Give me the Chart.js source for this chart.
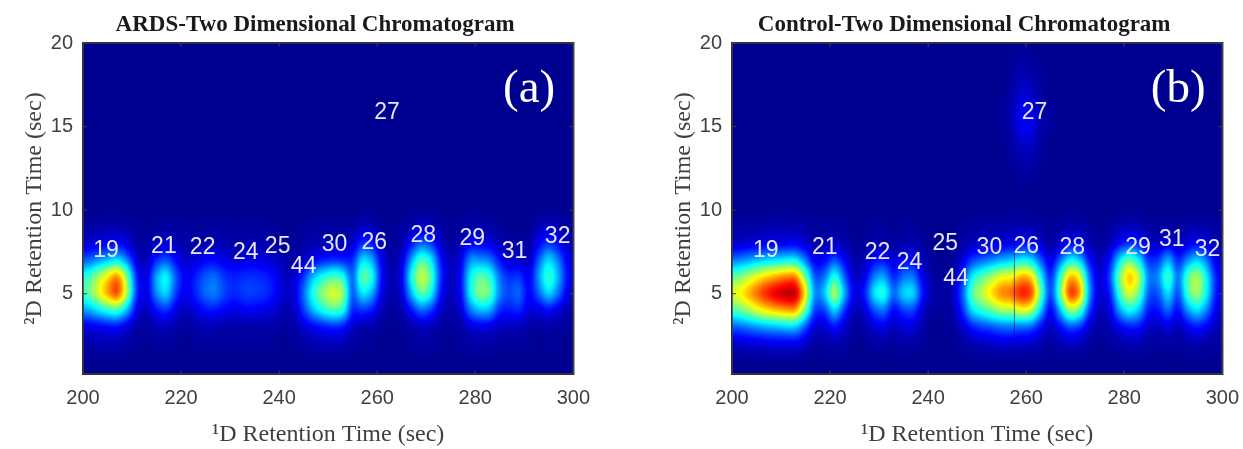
<!DOCTYPE html>
<html>
<head>
<meta charset="utf-8">
<script src="https://cdn.jsdelivr.net/npm/chart.js@4"></script>
<style>
  html, body { margin: 0; background: #fff; overflow: hidden; }
  canvas { position: absolute; top: 0; filter: blur(0.4px); }
</style>
</head>
<body>
<canvas id="ards" width="594" height="449" style="left:0"></canvas>
<canvas id="control" width="594" height="449" style="left:649px"></canvas>
<script>
'use strict';

const xTicks = [200, 220, 240, 260, 280, 300];
const yTicks = [5, 10, 15, 20];

// 1D column centres, every 2 sec
const columns = [
  201, 203, 205, 207, 209, 211, 213, 215, 217, 219,
  221, 223, 225, 227, 229, 231, 233, 235, 237, 239,
  241, 243, 245, 247, 249, 251, 253, 255, 257, 259,
  261, 263, 265, 267, 269, 271, 273, 275, 277, 279,
  281, 283, 285, 287, 289, 291, 293, 295, 297, 299,
];
// 2D row centres, bottom to top
const rows = [2, 3, 4, 5, 6, 7, 8, 9];

// Intensity 0-100, read by eye from the colours
const ardsGrid = [
  [3, 3, 3, 4, 2, 1, 0, 1, 1, 1, 0, 1, 1, 1, 1, 1, 1, 1, 1, 1, 0, 1, 2, 3, 4, 4, 4, 2, 1, 1, 0, 0, 0, 1, 2, 2, 1, 0, 1, 2, 2, 2, 1, 1, 1, 1, 0, 1, 1, 0],
  [7, 8, 9, 10, 6, 2, 1, 3, 4, 2, 1, 2, 3, 3, 2, 2, 2, 2, 2, 2, 1, 2, 6, 9, 11, 13, 12, 5, 2, 2, 1, 0, 1, 2, 4, 3, 1, 1, 2, 6, 7, 7, 4, 4, 4, 2, 1, 2, 1, 1],
  [28, 34, 40, 44, 30, 8, 3, 12, 16, 8, 4, 8, 12, 13, 10, 8, 10, 10, 9, 7, 3, 4, 17, 31, 40, 46, 43, 13, 16, 13, 3, 1, 2, 12, 22, 17, 5, 2, 5, 24, 31, 30, 14, 13, 16, 7, 7, 11, 7, 2],
  [46, 60, 74, 88, 58, 14, 6, 27, 36, 17, 8, 15, 23, 25, 18, 15, 18, 18, 17, 13, 6, 6, 22, 42, 54, 62, 58, 15, 38, 30, 8, 2, 6, 30, 50, 40, 11, 3, 9, 38, 54, 50, 24, 18, 24, 9, 21, 36, 23, 7],
  [42, 54, 66, 80, 52, 13, 5, 30, 42, 20, 9, 14, 21, 23, 16, 14, 16, 16, 15, 12, 5, 5, 16, 32, 40, 46, 43, 16, 52, 42, 10, 2, 7, 40, 62, 48, 15, 3, 9, 38, 48, 44, 22, 15, 18, 7, 28, 47, 30, 10],
  [20, 25, 29, 34, 24, 6, 3, 15, 20, 11, 5, 7, 10, 11, 8, 7, 8, 8, 8, 6, 3, 2, 5, 9, 12, 14, 13, 13, 36, 30, 8, 2, 5, 28, 48, 38, 12, 3, 7, 28, 26, 24, 12, 5, 6, 3, 21, 36, 24, 8],
  [6, 7, 9, 11, 8, 2, 1, 5, 7, 4, 2, 2, 3, 3, 3, 2, 3, 3, 3, 2, 1, 1, 2, 3, 4, 4, 4, 5, 16, 13, 3, 1, 2, 12, 21, 17, 5, 1, 3, 10, 9, 8, 4, 1, 2, 1, 10, 17, 11, 4],
  [2, 2, 3, 3, 2, 1, 0, 1, 2, 1, 1, 1, 1, 1, 1, 1, 1, 1, 1, 1, 0, 0, 1, 1, 1, 1, 1, 1, 5, 4, 1, 0, 1, 3, 6, 5, 2, 0, 1, 3, 3, 2, 1, 0, 0, 0, 4, 6, 4, 2],
];

const controlGrid = [
  [5, 6, 6, 7, 8, 8, 8, 5, 1, 2, 3, 2, 0, 0, 2, 2, 1, 2, 2, 1, 0, 0, 0, 1, 3, 4, 5, 6, 6, 5, 5, 3, 1, 3, 5, 4, 1, 0, 1, 2, 3, 3, 1, 1, 2, 1, 2, 3, 2, 1],
  [20, 22, 25, 27, 28, 30, 31, 19, 5, 6, 13, 6, 1, 2, 7, 9, 4, 7, 8, 2, 0, 0, 1, 5, 13, 16, 18, 21, 21, 20, 19, 11, 3, 11, 18, 15, 5, 1, 3, 9, 12, 13, 5, 4, 8, 3, 9, 13, 9, 3],
  [46, 52, 60, 66, 70, 73, 75, 48, 15, 16, 36, 15, 3, 5, 19, 24, 9, 17, 18, 5, 1, 1, 2, 14, 36, 42, 48, 54, 54, 62, 60, 32, 6, 30, 56, 48, 15, 4, 6, 28, 40, 32, 12, 12, 24, 9, 27, 36, 24, 6],
  [62, 70, 80, 88, 94, 98, 100, 68, 22, 32, 64, 30, 7, 12, 38, 46, 20, 36, 38, 12, 3, 1, 3, 20, 48, 58, 68, 78, 80, 90, 88, 50, 12, 50, 90, 78, 24, 5, 10, 42, 62, 50, 18, 18, 38, 14, 46, 56, 36, 10],
  [48, 54, 62, 68, 72, 76, 78, 50, 17, 22, 44, 20, 4, 7, 24, 30, 12, 23, 24, 8, 1, 1, 2, 14, 38, 46, 54, 62, 62, 72, 70, 38, 10, 42, 74, 64, 20, 5, 16, 50, 74, 60, 22, 26, 50, 19, 48, 58, 36, 10],
  [23, 26, 29, 32, 33, 35, 36, 23, 7, 10, 20, 10, 2, 3, 11, 13, 6, 11, 12, 4, 1, 0, 1, 6, 17, 20, 24, 28, 30, 36, 35, 20, 5, 22, 38, 32, 10, 3, 10, 34, 50, 36, 14, 16, 32, 12, 25, 34, 22, 6],
  [5, 6, 7, 8, 8, 8, 9, 6, 2, 3, 5, 3, 0, 1, 3, 3, 1, 3, 3, 1, 0, 0, 0, 2, 4, 5, 6, 7, 8, 10, 10, 6, 1, 5, 10, 9, 3, 1, 3, 10, 14, 14, 5, 4, 8, 3, 7, 10, 8, 2],
  [2, 2, 2, 3, 3, 3, 3, 2, 1, 1, 1, 1, 0, 0, 1, 1, 0, 1, 1, 0, 0, 0, 0, 1, 1, 2, 2, 2, 3, 3, 3, 2, 0, 2, 3, 3, 1, 0, 1, 3, 4, 4, 2, 1, 2, 1, 2, 3, 2, 1],
];

// Faint peak 27 in the control run
const faintColumns = [255, 257, 259, 261, 263, 265];
const faintRows = [12, 13, 14, 15, 16, 17, 18, 19];
const faintGrid = [
  [0, 0, 1, 1, 0, 0],
  [0, 1, 3, 3, 1, 0],
  [0, 2, 6, 6, 2, 0],
  [1, 3, 11, 11, 3, 1],
  [1, 3, 11, 10, 3, 1],
  [0, 2, 7, 6, 2, 0],
  [0, 1, 4, 3, 1, 0],
  [0, 1, 2, 1, 0, 0],
];

const ardsLabels = ['19', '21', '22', '24', '25', '44', '30', '26', '28', '29', '31', '32', '27'];
const ardsLabelX = [204.7, 216.5, 224.4, 233.2, 239.7, 245, 251.3, 259.4, 269.4, 279.4, 288, 296.8, 262];
const ardsLabelY = [7.57, 7.81, 7.75, 7.45, 7.81, 6.6, 7.93, 8.05, 8.47, 8.29, 7.5, 8.41, 15.82];

const controlLabels = ['19', '21', '22', '24', '25', '44', '30', '26', '28', '29', '31', '32', '27'];
const controlLabelX = [206.9, 218.9, 229.7, 236.2, 243.5, 245.7, 252.5, 260, 269.4, 282.8, 289.7, 297, 261.7];
const controlLabelY = [7.57, 7.75, 7.45, 6.85, 8, 5.9, 7.75, 7.81, 7.75, 7.75, 8.23, 7.63, 15.82];

const SANS = '"Liberation Sans", Arial, sans-serif';
const SERIF = '"Liberation Serif", "Times New Roman", serif';
const AXIS_GREY = '#404040';
const STRETCH = 1.7; // cells are wider in 2D than 1D, blur evens that out

// MATLAB jet channels, t from 0 to 1
function jetChannel(t, x) {
  return Math.round(255 * Math.max(0, Math.min(1, 1.5 - Math.abs(4 * t - x))));
}
const jetTable = Array.from({ length: 256 }, (_, i) => {
  const t = 0.016 + (i / 255) * 0.984;
  return [jetChannel(t, 3), jetChannel(t, 2), jetChannel(t, 1)];
});

// Cells are drawn as grey levels, recoloured after smoothing
function grey(v) {
  const g = Math.round(v * 2.55);
  return `rgb(${g},${g},${g})`;
}

function rowDatasets(cols, rowCentres, grid) {
  return rowCentres.map((r, i) => ({
    data: cols.map((x) => ({ x, y: [r - 0.5, r + 0.5] })),
    backgroundColor: grid[i].map(grey),
    borderWidth: 0,
    barPercentage: 1,
    categoryPercentage: 1,
    grouped: false,
  }));
}

const heatmapPlugin = {
  id: 'heatmap',
  beforeDatasetsDraw(chart) {
    const { ctx, chartArea: a } = chart;
    ctx.save();
    ctx.fillStyle = '#000';
    ctx.fillRect(a.left - 1, a.top - 1, a.width + 2, a.height + 2);
    ctx.restore();
  },
  afterDatasetsDraw(chart) {
    const { ctx, chartArea: a } = chart;
    const w = Math.round(a.width);
    const h = Math.round(a.height);
    const left = Math.round(a.left);
    const top = Math.round(a.top);

    const wide = document.createElement('canvas');
    wide.width = Math.round(w * STRETCH);
    wide.height = h;
    const wideCtx = wide.getContext('2d');
    wideCtx.filter = 'blur(7px)';
    wideCtx.drawImage(chart.canvas, left, top, w, h, 0, 0, wide.width, h);

    const back = document.createElement('canvas');
    back.width = w;
    back.height = h;
    const backCtx = back.getContext('2d');
    backCtx.drawImage(wide, 0, 0, w, h);

    const img = backCtx.getImageData(0, 0, w, h);
    const px = img.data;
    for (let i = 0; i < px.length; i += 4) {
      const c = jetTable[px[i]];
      px[i] = c[0];
      px[i + 1] = c[1];
      px[i + 2] = c[2];
      px[i + 3] = 255;
    }
    ctx.putImageData(img, left, top);
  },
  afterDraw(chart, args, opts) {
    const { ctx, chartArea: a, scales } = chart;
    ctx.save();

    // seam in the control trace
    if (opts.seam) {
      ctx.strokeStyle = 'rgba(0,0,120,0.55)';
      ctx.lineWidth = 1;
      ctx.beginPath();
      ctx.moveTo(scales.x.getPixelForValue(opts.seam), scales.y.getPixelForValue(8.2));
      ctx.lineTo(scales.x.getPixelForValue(opts.seam), scales.y.getPixelForValue(2.6));
      ctx.stroke();
    }

    // compound numbers
    ctx.fillStyle = '#e6e6f5';
    ctx.font = `23px ${SANS}`;
    ctx.textAlign = 'center';
    ctx.textBaseline = 'middle';
    opts.labels.forEach((t, i) => {
      ctx.fillText(t, scales.x.getPixelForValue(opts.labelX[i]), scales.y.getPixelForValue(opts.labelY[i]));
    });

    // panel letter
    ctx.fillStyle = '#fff';
    ctx.font = `47px ${SERIF}`;
    ctx.fillText(opts.letter, scales.x.getPixelForValue(291), scales.y.getPixelForValue(17.2));

    // box and inward ticks
    ctx.strokeStyle = AXIS_GREY;
    ctx.lineWidth = 1.5;
    ctx.strokeRect(a.left, a.top, a.width, a.height);
    ctx.lineWidth = 1;
    ctx.beginPath();
    xTicks.forEach((v) => {
      const x = scales.x.getPixelForValue(v);
      ctx.moveTo(x, a.bottom);
      ctx.lineTo(x, a.bottom - 4);
      ctx.moveTo(x, a.top);
      ctx.lineTo(x, a.top + 4);
    });
    yTicks.forEach((v) => {
      const y = scales.y.getPixelForValue(v);
      ctx.moveTo(a.left, y);
      ctx.lineTo(a.left + 4, y);
      ctx.moveTo(a.right, y);
      ctx.lineTo(a.right - 4, y);
    });
    ctx.stroke();

    // title sits a bit left of the axes centre in the original
    ctx.fillStyle = '#1a1a1a';
    ctx.font = `bold 23px ${SERIF}`;
    ctx.fillText(opts.title, (a.left + a.right) / 2 - 13, 25);
    ctx.restore();
  },
};

function makePanel(id, datasets, opts) {
  return new Chart(document.getElementById(id), {
    type: 'bar',
    data: { datasets },
    plugins: [heatmapPlugin],
    options: {
      responsive: false,
      animation: false,
      layout: { padding: { top: 43, right: 10.5 } },
      plugins: {
        legend: { display: false },
        tooltip: { enabled: false },
        heatmap: opts,
      },
      scales: {
        x: {
          type: 'linear',
          offset: false,
          min: 200,
          max: 300,
          afterBuildTicks: (s) => { s.ticks = xTicks.map((value) => ({ value })); },
          afterFit: (s) => { s.height = 75; },
          grid: { display: false },
          border: { display: false },
          ticks: { color: AXIS_GREY, font: { family: SANS, size: 20 }, padding: 4, maxRotation: 0, autoSkip: false },
          title: { display: true, text: '¹D Retention Time (sec)', color: AXIS_GREY, font: { family: SERIF, size: 24 }, padding: { top: 2, bottom: 0 } },
        },
        y: {
          min: 0.2,
          max: 20,
          afterBuildTicks: (s) => { s.ticks = yTicks.map((value) => ({ value })); },
          afterFit: (s) => { s.width = 83; },
          grid: { display: false },
          border: { display: false },
          ticks: { color: AXIS_GREY, font: { family: SANS, size: 20 }, padding: 2, autoSkip: false },
          title: { display: true, text: '²D Retention Time (sec)', color: AXIS_GREY, font: { family: SERIF, size: 24 }, padding: { top: 20, bottom: 0 } },
        },
      },
    },
  });
}

makePanel('ards', rowDatasets(columns, rows, ardsGrid), {
  title: 'ARDS-Two Dimensional Chromatogram',
  letter: '(a)',
  labels: ardsLabels,
  labelX: ardsLabelX,
  labelY: ardsLabelY,
});

makePanel('control', [
  ...rowDatasets(columns, rows, controlGrid),
  ...rowDatasets(faintColumns, faintRows, faintGrid),
], {
  title: 'Control-Two Dimensional Chromatogram',
  letter: '(b)',
  labels: controlLabels,
  labelX: controlLabelX,
  labelY: controlLabelY,
  seam: 257.6,
});
</script>
</body>
</html>
